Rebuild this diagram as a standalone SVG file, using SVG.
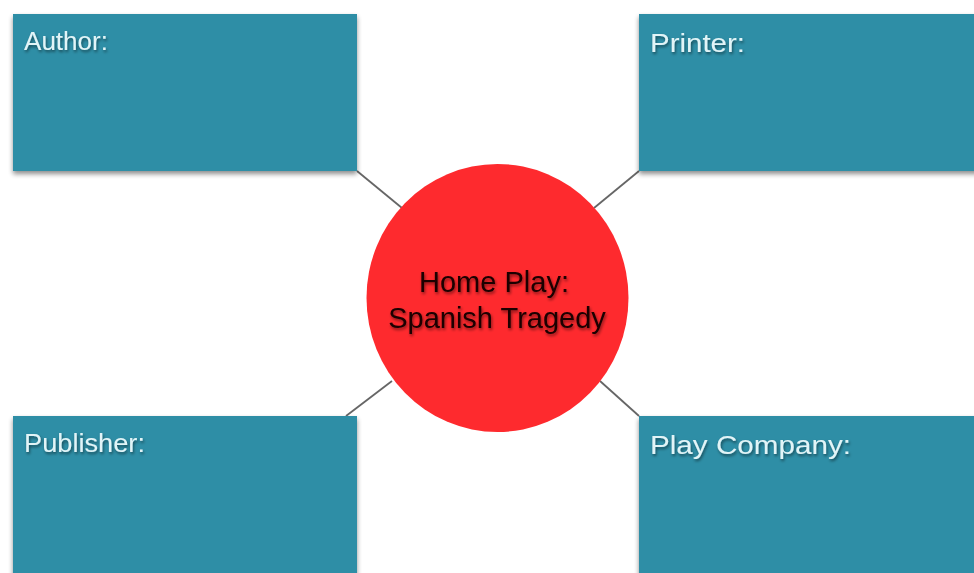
<svg xmlns="http://www.w3.org/2000/svg" width="974" height="573" viewBox="0 0 974 573">
<defs>
<filter id="sh" x="-10%" y="-10%" width="120%" height="130%">
<feGaussianBlur in="SourceAlpha" stdDeviation="2.5"/>
<feOffset dx="0" dy="3" result="b"/>
<feComponentTransfer><feFuncA type="linear" slope="0.45"/></feComponentTransfer>
<feMerge><feMergeNode/><feMergeNode in="SourceGraphic"/></feMerge>
</filter>
<filter id="tsh" x="-10%" y="-30%" width="120%" height="160%">
<feGaussianBlur in="SourceAlpha" stdDeviation="1.5"/>
<feOffset dx="1" dy="2"/>
<feComponentTransfer><feFuncA type="linear" slope="0.5"/></feComponentTransfer>
<feMerge><feMergeNode/><feMergeNode in="SourceGraphic"/></feMerge>
</filter>
</defs>
<style>
.box{fill:#2f8ea6;}
.lbl{font-family:"Liberation Sans",Arial,sans-serif;font-size:26px;fill:#e2f4f7;}
.ctr{font-family:"Liberation Sans",Arial,sans-serif;font-size:29px;fill:#1a0505;text-anchor:middle;}
.conn{stroke:#666;stroke-width:1.8;fill:none;}
</style>
<rect width="974" height="573" fill="#ffffff"/>
<g id="connectors">
<line class="conn" x1="357" y1="171" x2="402" y2="208"/>
<line class="conn" x1="639" y1="171" x2="594" y2="208"/>
<line class="conn" x1="346" y1="416" x2="392" y2="381"/>
<line class="conn" x1="639" y1="416" x2="600" y2="381"/>
</g>
<g id="author">
<rect class="box" x="13" y="14" width="344" height="157" filter="url(#sh)"/>
<text class="lbl" x="24" y="50" textLength="84" lengthAdjust="spacingAndGlyphs" filter="url(#tsh)">Author:</text>
</g>
<g id="printer">
<rect class="box" x="639" y="14" width="345" height="157" filter="url(#sh)"/>
<text class="lbl" x="650" y="52" textLength="95" lengthAdjust="spacingAndGlyphs" filter="url(#tsh)">Printer:</text>
</g>
<g id="publisher">
<rect class="box" x="13" y="416" width="344" height="170" filter="url(#sh)"/>
<text class="lbl" x="24" y="452" textLength="121" lengthAdjust="spacingAndGlyphs" filter="url(#tsh)">Publisher:</text>
</g>
<g id="play-company">
<rect class="box" x="639" y="416" width="345" height="170" filter="url(#sh)"/>
<text class="lbl" x="650" y="454" textLength="201" lengthAdjust="spacingAndGlyphs" filter="url(#tsh)">Play Company:</text>
</g>
<g id="home-play">
<ellipse cx="497.5" cy="298" rx="131" ry="134" fill="#fe2a2e"/>
<text class="ctr" x="494" y="292" filter="url(#tsh)">Home Play:</text>
<text class="ctr" x="497" y="328" filter="url(#tsh)">Spanish Tragedy</text>
</g>
</svg>
